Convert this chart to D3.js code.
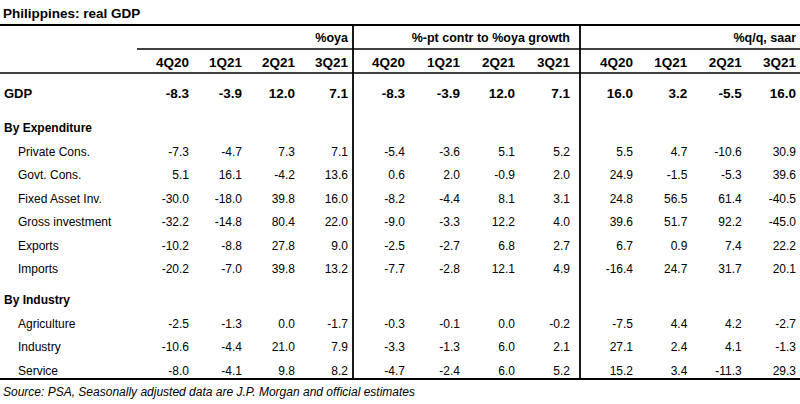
<!DOCTYPE html>
<html>
<head>
<meta charset="utf-8">
<script src="https://cdn.jsdelivr.net/npm/d3@7"></script>
<style>
  body { margin: 0; background: #fff; }
  svg text { font-family: "Liberation Sans", Arial, sans-serif; fill: #000; }
</style>
</head>
<body>
<div id="table"></div>
<script>
// data
var quarters = ["4Q20", "1Q21", "2Q21", "3Q21"];
var blockTitles = ["%oya", "%-pt contr to %oya growth", "%q/q, saar"];

// row label, type (total / section / item), slot on the vertical scale
var rowLabels = ["GDP", "By Expenditure", "Private Cons.", "Govt. Cons.", "Fixed Asset Inv.", "Gross investment",
    "Exports", "Imports", "By Industry", "Agriculture", "Industry", "Service"];
var rowTypes = ["total", "section", "item", "item", "item", "item", "item", "item", "section", "item", "item", "item"];
var rowSlots = [0, 1.5, 2.5, 3.5, 4.5, 5.5, 6.5, 7.5, 8.8, 9.8, 10.8, 11.8];

// values per row (null for section headings)
var oya = [
    [-8.3, -3.9, 12.0, 7.1], null,
    [-7.3, -4.7, 7.3, 7.1], [5.1, 16.1, -4.2, 13.6], [-30.0, -18.0, 39.8, 16.0], [-32.2, -14.8, 80.4, 22.0],
    [-10.2, -8.8, 27.8, 9.0], [-20.2, -7.0, 39.8, 13.2], null,
    [-2.5, -1.3, 0.0, -1.7], [-10.6, -4.4, 21.0, 7.9], [-8.0, -4.1, 9.8, 8.2]
];
var contr = [
    [-8.3, -3.9, 12.0, 7.1], null,
    [-5.4, -3.6, 5.1, 5.2], [0.6, 2.0, -0.9, 2.0], [-8.2, -4.4, 8.1, 3.1], [-9.0, -3.3, 12.2, 4.0],
    [-2.5, -2.7, 6.8, 2.7], [-7.7, -2.8, 12.1, 4.9], null,
    [-0.3, -0.1, 0.0, -0.2], [-3.3, -1.3, 6.0, 2.1], [-4.7, -2.4, 6.0, 5.2]
];
var qq = [
    [16.0, 3.2, -5.5, 16.0], null,
    [5.5, 4.7, -10.6, 30.9], [24.9, -1.5, -5.3, 39.6], [24.8, 56.5, 61.4, -40.5], [39.6, 51.7, 92.2, -45.0],
    [6.7, 0.9, 7.4, 22.2], [-16.4, 24.7, 31.7, 20.1], null,
    [-7.5, 4.4, 4.2, -2.7], [27.1, 2.4, 4.1, -1.3], [15.2, 3.4, -11.3, 29.3]
];
var blocks = [oya, contr, qq];

var title = "Philippines: real GDP";
var source = "Source: PSA, Seasonally adjusted data are J.P. Morgan and official estimates";

const w = 800;
const h = 404;

const svg = d3.select("#table")
    .append("svg")
    .attr("width", w)
    .attr("height", h);

// vertical scale: row slot -> text centre
const yScale = d3.scaleLinear()
    .domain([0, 11.8])
    .range([93, 370.3]);

// one column scale per block (right edges of the columns)
const blockRanges = [[189, 348], [405, 570], [633, 796]];
const xScales = blockRanges.map((r) => d3.scaleLinear().domain([0, quarters.length - 1]).range(r));

const yTitleRow = yScale(-2.34);
const yQuarterRow = yScale(-1.32);

// title
svg.append("text")
    .attr("x", 3)
    .attr("y", 13)
    .attr("dy", "0.35em")
    .style("font-size", "13.5px")
    .style("font-weight", "bold")
    .text(title);

// rules
const rules = svg.append("g").attr("stroke", "#000");
rules.append("line").attr("x1", 0).attr("x2", w).attr("y1", 25).attr("y2", 25).attr("stroke-width", 2.2);
rules.append("line").attr("x1", 137).attr("x2", w).attr("y1", 49).attr("y2", 49).attr("stroke-width", 1.6);
rules.append("line").attr("x1", 0).attr("x2", w).attr("y1", 73).attr("y2", 73).attr("stroke-width", 1.6);
rules.append("line").attr("x1", 0).attr("x2", w).attr("y1", 379).attr("y2", 379).attr("stroke-width", 2.2);
[353, 580].forEach((x) => {
    rules.append("line").attr("x1", x).attr("x2", x).attr("y1", 25).attr("y2", 379).attr("stroke-width", 1.8);
});

// block headers
blockTitles.forEach((t, b) => {
    svg.append("text")
        .attr("x", xScales[b](quarters.length - 1))
        .attr("y", yTitleRow)
        .attr("dy", "0.35em")
        .attr("text-anchor", "end")
        .style("font-size", "12.5px")
        .style("font-weight", "bold")
        .text(t);

    svg.append("g")
        .selectAll("text")
        .data(quarters)
        .enter()
        .append("text")
        .attr("x", (d, i) => xScales[b](i))
        .attr("y", yQuarterRow)
        .attr("dy", "0.35em")
        .attr("text-anchor", "end")
        .style("font-size", "13.5px")
        .style("font-weight", "bold")
        .text((d) => d);
});

// row labels
svg.append("g")
    .selectAll("text")
    .data(rowLabels)
    .enter()
    .append("text")
    .attr("x", (d, i) => rowTypes[i] == "item" ? 18 : 4)
    .attr("y", (d, i) => yScale(rowSlots[i]))
    .attr("dy", "0.35em")
    .style("font-size", (d, i) => rowTypes[i] == "total" ? "13px" : "12px")
    .style("font-weight", (d, i) => rowTypes[i] == "item" ? "normal" : "bold")
    .text((d) => d);

// values
blocks.forEach((block, b) => {
    block.forEach((vals, r) => {
        if (!vals) return;
        svg.append("g")
            .selectAll("text")
            .data(vals)
            .enter()
            .append("text")
            .attr("x", (d, i) => xScales[b](i))
            .attr("y", yScale(rowSlots[r]))
            .attr("dy", "0.35em")
            .attr("text-anchor", "end")
            .style("font-size", rowTypes[r] == "total" ? "13.5px" : "12px")
            .style("font-weight", rowTypes[r] == "total" ? "bold" : "normal")
            .text((d) => d.toFixed(1));
    });
});

// source
svg.append("text")
    .attr("x", 3)
    .attr("y", 392)
    .attr("dy", "0.35em")
    .style("font-size", "12px")
    .style("font-style", "italic")
    .text(source);
</script>
</body>
</html>
